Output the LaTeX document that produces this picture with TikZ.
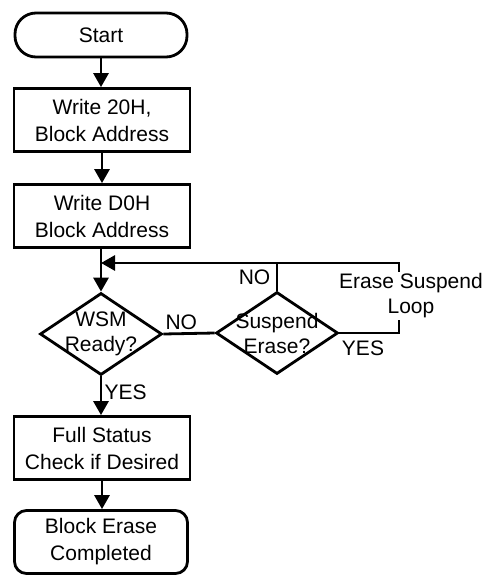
\documentclass[tikz,border=0pt]{standalone}
\usepackage{fontspec}
\setmainfont{Liberation Sans}
\usetikzlibrary{shapes.geometric, arrows.meta, positioning}
\tikzset{
>={Triangle[width=15pt,length=14pt]}, % filled arrow heads
every node/.style={font=\fontsize{21}{27}\selectfont, align=center},
terminal/.style={draw, rectangle, rounded corners=21pt, minimum width=172pt, minimum height=44pt},
finish/.style={draw, rectangle, rounded corners=12pt, minimum width=173pt, minimum height=63pt},
process/.style={draw, rectangle, minimum width=176pt, minimum height=63pt},
decision/.style={draw, diamond, minimum width=122pt, minimum height=82pt, inner sep=0pt},
}

\begin{document}
\begin{tikzpicture}[x=1pt, y=-1pt, line width=2.8pt]
        \useasboundingbox (0,0) rectangle (490,582);

        \node[terminal] (start) at (101,35) {Start};
        \node[process] (write20) at (102,120) {Write 20H,\\Block Address};
        \node[process] (writed0) at (102,216) {Write D0H\\Block Address};
        \node[decision, label={[font=\fontsize{21}{25}\selectfont, align=center]center:WSM\\Ready?}] (wsm) at (101,334) {};
        \node[decision, label={[font=\fontsize{21}{25}\selectfont, align=center]center:Suspend\\Erase?}] (susp) at (277,333) {};
        \node[process] (status) at (102,448) {Full Status\\Check if Desired};
        \node[finish] (done) at (101,542) {Block Erase\\Completed};

        \coordinate (loopr) at (399,263);

        \draw[->] (start) -- (start |- write20.north);
        \draw[->] (write20) -- (write20 |- writed0.north);
        \draw[->] (writed0.south -| wsm) -- (wsm.north);
        \draw (wsm.east) -- (susp.west) node[pos=0.35, above=-1pt] {NO};
        \draw (susp.north) -- (susp.north |- loopr) node[midway, left=2pt] {NO};
        \draw[->] (susp.east) -| (loopr) -- (wsm.north |- loopr);
        \node (yes2) at (363,348) {YES};
        \node[fill=white, inner sep=2pt, font=\fontsize{21}{25}\selectfont] (loop) at (411,296) {Erase Suspend\\Loop};
        \draw[->] (wsm.south) -- (wsm.south |- status.north) node[pos=0.4, right=-1pt] {YES};
        \draw[->] (status) -- (status |- done.north);
      \end{tikzpicture}
\end{document}
